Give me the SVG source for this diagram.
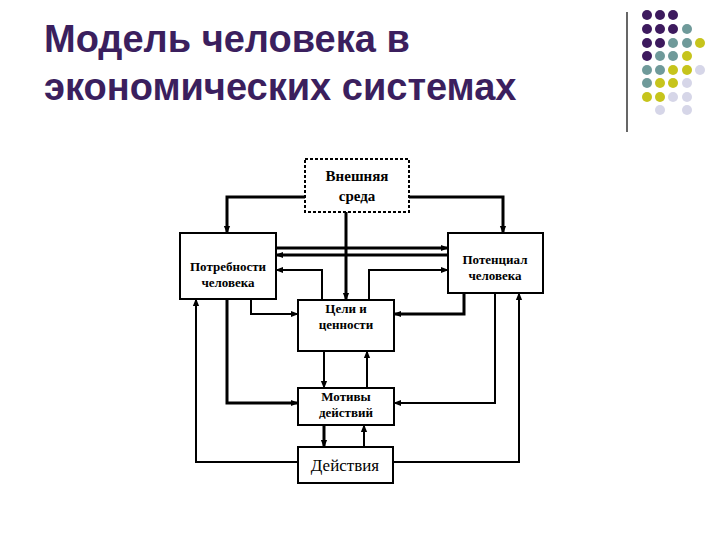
<svg xmlns="http://www.w3.org/2000/svg" width="720" height="540" viewBox="0 0 720 540">
<style>
.title{font-family:"Liberation Sans",Arial,sans-serif;font-weight:bold;font-size:38px;fill:#3b1f5e}
.box{fill:#fff;stroke:#000;stroke-width:2}
.lbl{font-family:"Liberation Serif","DejaVu Serif","Times New Roman",serif;font-weight:bold;font-size:13px;fill:#000;text-anchor:middle}
.c path{fill:none;stroke:#000;stroke-width:2}
.c path.t{stroke-width:3}
.P{fill:#3d1a5e}.T{fill:#6f9a9a}.Y{fill:#c6c41c}.L{fill:#d6d6e8}
</style>
<defs>
<marker id="a" viewBox="0 0 10 10" refX="9" refY="5" markerWidth="8" markerHeight="8" markerUnits="userSpaceOnUse" orient="auto"><path d="M0,1L10,5L0,9z" fill="#000"/></marker>
</defs>
<rect width="720" height="540" fill="#fff"/>
<text class="title" x="44" y="52">Модель человека в</text>
<text class="title" x="44" y="100">экономических системах</text>
<g id="deco">
<line x1="627" y1="12" x2="627" y2="132" stroke="#000" stroke-width="1.2"/>
<g>
<circle class="P" cx="647" cy="15" r="5"/><circle class="P" cx="660" cy="15" r="5"/><circle class="P" cx="673" cy="15" r="5"/>
<circle class="P" cx="647" cy="29" r="5"/><circle class="P" cx="660" cy="29" r="5"/><circle class="P" cx="673" cy="29" r="5"/><circle class="T" cx="687" cy="29" r="5"/>
<circle class="P" cx="647" cy="43" r="5"/><circle class="P" cx="660" cy="43" r="5"/><circle class="T" cx="673" cy="43" r="5"/><circle class="T" cx="687" cy="43" r="5"/><circle class="Y" cx="700" cy="43" r="5"/>
<circle class="P" cx="647" cy="56" r="5"/><circle class="T" cx="660" cy="56" r="5"/><circle class="T" cx="673" cy="56" r="5"/><circle class="Y" cx="687" cy="56" r="5"/>
<circle class="T" cx="647" cy="70" r="5"/><circle class="T" cx="660" cy="70" r="5"/><circle class="Y" cx="673" cy="70" r="5"/><circle class="Y" cx="687" cy="70" r="5"/><circle class="L" cx="700" cy="70" r="5"/>
<circle class="T" cx="647" cy="83" r="5"/><circle class="Y" cx="660" cy="83" r="5"/><circle class="Y" cx="673" cy="83" r="5"/><circle class="L" cx="687" cy="83" r="5"/>
<circle class="Y" cx="647" cy="97" r="5"/><circle class="Y" cx="660" cy="97" r="5"/><circle class="L" cx="673" cy="97" r="5"/><circle class="L" cx="687" cy="97" r="5"/>
<circle class="L" cx="660" cy="110" r="5"/><circle class="L" cx="687" cy="110" r="5"/>
</g>
</g>
<g class="c" id="connectors">
<path class="t" d="M305,197H227V233" marker-end="url(#a)"/>
<path class="t" d="M409,197H503V233" marker-end="url(#a)"/>
<path class="t" d="M346,212V300" marker-end="url(#a)"/>
<path class="t" d="M277,248H448" marker-end="url(#a)"/>
<path class="t" d="M447,255H276" marker-end="url(#a)"/>
<path d="M322,300V270H276" marker-end="url(#a)"/>
<path d="M369,300V270H448" marker-end="url(#a)"/>
<path class="t" d="M464,293V314H394" marker-end="url(#a)"/>
<path d="M251,299V314H298" marker-end="url(#a)"/>
<path class="t" d="M227,299V403H298" marker-end="url(#a)"/>
<path d="M495,293V403H394" marker-end="url(#a)"/>
<path d="M324,351V388" marker-end="url(#a)"/>
<path d="M367,388V351" marker-end="url(#a)"/>
<path class="t" d="M324,425V447" marker-end="url(#a)"/>
<path d="M364,447V425" marker-end="url(#a)"/>
<path d="M298,462H196V299" marker-end="url(#a)"/>
<path d="M393,462H519V293" marker-end="url(#a)"/>
</g>
<g id="env"><rect x="305" y="159" width="104" height="53" fill="#fff" stroke="#000" stroke-width="2" stroke-dasharray="3,2"/>
<text class="lbl" x="357" y="181" style="font-size:15px">Внешняя</text><text class="lbl" x="357" y="201" style="font-size:15px">среда</text></g>
<g id="needs"><rect class="box" x="180" y="233" width="96" height="66"/>
<text class="lbl" x="228" y="271">Потребности</text><text class="lbl" x="228" y="287">человека</text></g>
<g id="potential"><rect class="box" x="448" y="233" width="95" height="60"/>
<text class="lbl" x="495" y="264">Потенциал</text><text class="lbl" x="495" y="280">человека</text></g>
<g id="goals"><rect class="box" x="298" y="300" width="96" height="51"/>
<text class="lbl" x="346" y="313">Цели и</text><text class="lbl" x="346" y="329">ценности</text></g>
<g id="motives"><rect class="box" x="298" y="388" width="96" height="37"/>
<text class="lbl" x="346" y="401">Мотивы</text><text class="lbl" x="346" y="417">действий</text></g>
<g id="actions"><rect class="box" x="298" y="447" width="95" height="36"/>
<text class="lbl" x="345" y="471" style="font-size:17px;font-weight:normal">Действия</text></g>
</svg>
